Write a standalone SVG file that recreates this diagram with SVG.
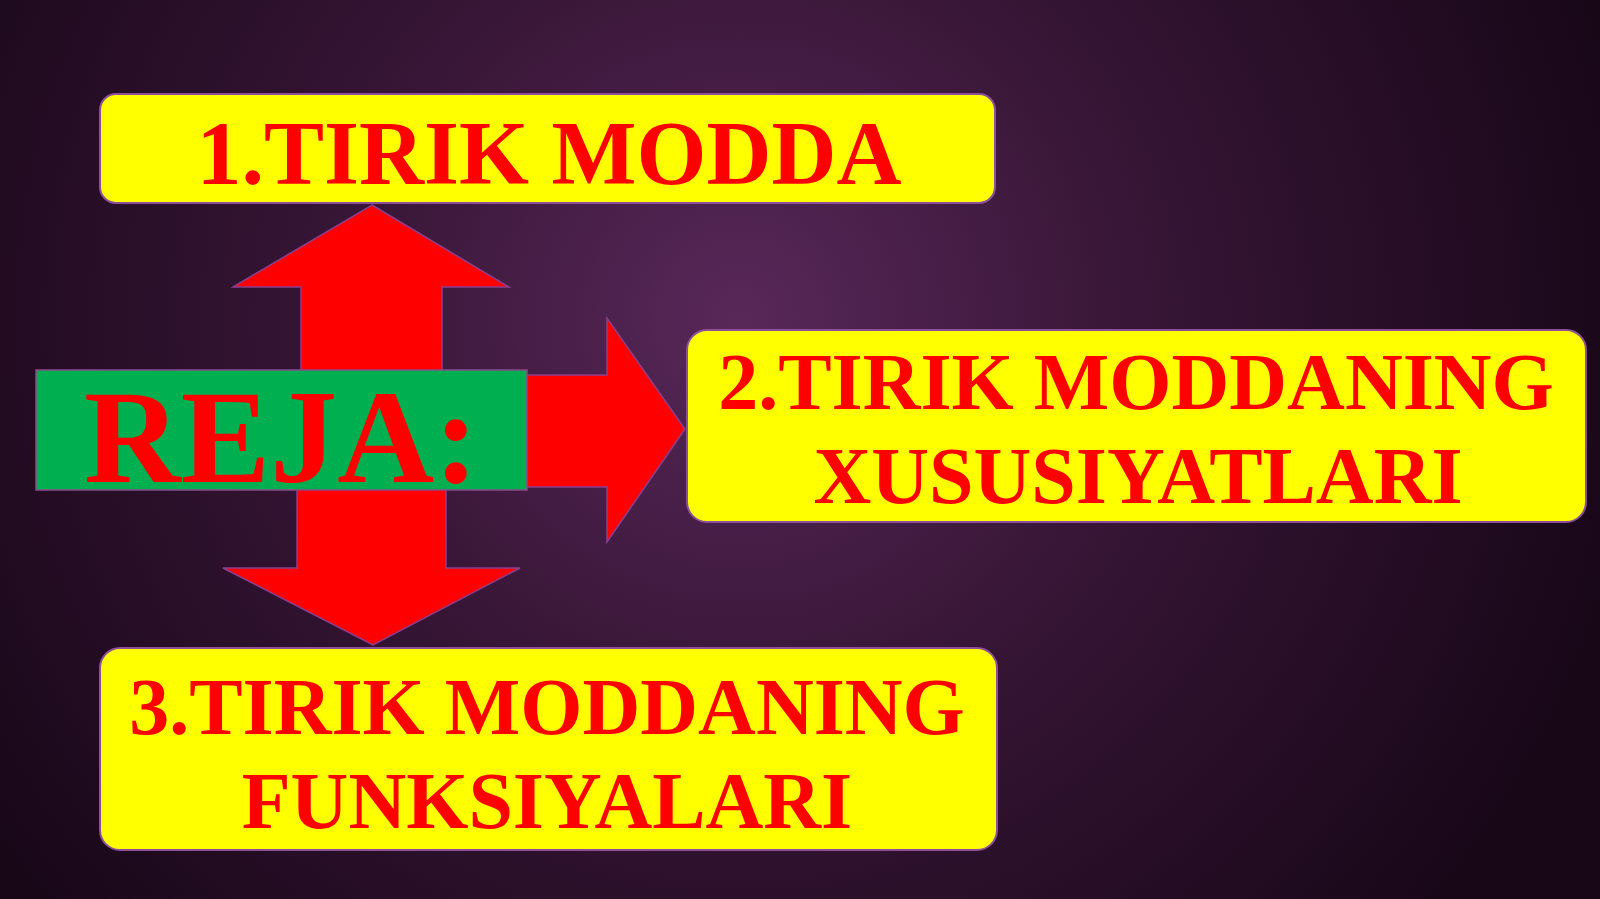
<svg xmlns="http://www.w3.org/2000/svg" width="1600" height="899" viewBox="0 0 1600 899">
  <defs>
    <radialGradient id="bg" cx="740" cy="320" r="920" gradientUnits="userSpaceOnUse">
      <stop offset="0" stop-color="#582859"/>
      <stop offset="0.45" stop-color="#361535"/>
      <stop offset="1" stop-color="#170717"/>
    </radialGradient>
    <style>
      .box { fill: #FFFF00; stroke: #8e4f9a; stroke-width: 2; }
      .arrow { fill: #FF0000; stroke: #8a3f8e; stroke-width: 1.5; stroke-linejoin: miter; }
      .lbl { font-family: "Liberation Serif", "Times New Roman", serif; font-weight: bold; fill: #FF0000; text-anchor: middle; }
    </style>
  </defs>
  <rect x="0" y="0" width="1600" height="899" fill="url(#bg)"/>

  <g id="connectors">
    <polygon class="arrow" points="372,205 509,287 442,287 442,372 301,372 301,287 233,287"/>
    <polygon class="arrow" points="297,488 446,488 446,568 520,568 373,645 223,568 297,568"/>
    <polygon class="arrow" points="525,375 607,375 607,318 685,429 607,542 607,487 525,487"/>
  </g>

  <g id="reja">
    <rect x="36" y="370" width="491" height="120" fill="#00B050" stroke="#8a4a8e" stroke-width="1.5"/>
    <text x="84" y="482" class="lbl" style="text-anchor:start" font-size="134">REJA:</text>
  </g>

  <g id="node1">
    <rect class="box" x="100" y="94" width="895" height="109" rx="16" ry="16"/>
    <text x="549" y="184" class="lbl" font-size="90">1.TIRIK MODDA</text>
  </g>

  <g id="node2">
    <rect class="box" x="687" y="330" width="899" height="192" rx="20" ry="20"/>
    <text x="1136" y="409" class="lbl" font-size="80">2.TIRIK MODDANING</text>
    <text x="1138" y="503" class="lbl" font-size="80">XUSUSIYATLARI</text>
  </g>

  <g id="node3">
    <rect class="box" x="100" y="648" width="897" height="202" rx="20" ry="20"/>
    <text x="547" y="734" class="lbl" font-size="80">3.TIRIK MODDANING</text>
    <text x="547" y="828" class="lbl" font-size="80">FUNKSIYALARI</text>
  </g>
</svg>
